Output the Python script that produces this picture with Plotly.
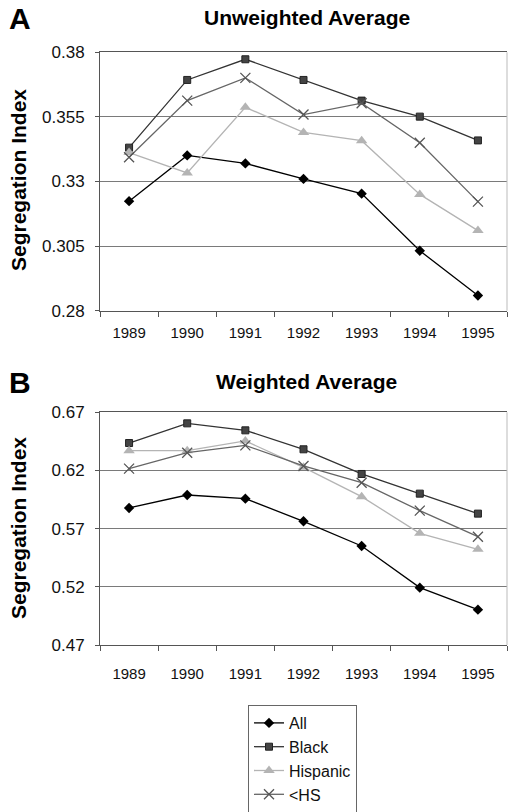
import plotly.graph_objects as go

years = ["1989", "1990", "1991", "1992", "1993", "1994", "1995"]
series_names = ["All", "Black", "Hispanic", "<HS"]

# Panel A: Unweighted Average
unw_all = [0.3224, 0.3401, 0.3370, 0.3310, 0.3253, 0.3032, 0.2859]
unw_black = [0.3431, 0.3693, 0.3773, 0.3693, 0.3613, 0.3551, 0.3459]
unw_hisp = [0.3412, 0.3333, 0.3587, 0.3490, 0.3458, 0.3250, 0.3110]
unw_hs = [0.3394, 0.3613, 0.3701, 0.3559, 0.3603, 0.3450, 0.3222]

# Panel B: Weighted Average
w_all = [0.5878, 0.5989, 0.5958, 0.5763, 0.5551, 0.5193, 0.5004]
w_black = [0.6436, 0.6605, 0.6545, 0.6382, 0.6170, 0.6001, 0.5829]
w_hisp = [0.6370, 0.6370, 0.6454, 0.6227, 0.5975, 0.5660, 0.5522]
w_hs = [0.6216, 0.6353, 0.6416, 0.6239, 0.6095, 0.5855, 0.5631]

ticks_a = [0.28, 0.305, 0.33, 0.355, 0.38]
ticks_b = [0.47, 0.52, 0.57, 0.62, 0.67]

W, H = 508, 812
FONT = "Liberation Sans, Arial, sans-serif"

styles = {
    "All": dict(line=dict(color="#000000", width=1.3),
                marker=dict(symbol="diamond", size=8, color="#000000")),
    "Black": dict(line=dict(color="#333333", width=1.3),
                  marker=dict(symbol="square", size=7, color="#444444",
                              line=dict(color="#222222", width=1))),
    "Hispanic": dict(line=dict(color="#b4b4b4", width=1.3),
                     marker=dict(symbol="triangle-up", size=10, color="#b4b4b4")),
    "<HS": dict(line=dict(color="#666666", width=1.3),
                marker=dict(symbol="x-thin", size=10,
                            line=dict(color="#555555", width=1.3))),
}

fig = go.Figure()
panel_a = [unw_all, unw_black, unw_hisp, unw_hs]
panel_b = [w_all, w_black, w_hisp, w_hs]
for name, vals in zip(series_names, panel_a):
    fig.add_trace(go.Scatter(x=years, y=vals, name=name, mode="lines+markers",
                             xaxis="x", yaxis="y", showlegend=True,
                             **styles[name]))
for name, vals in zip(series_names, panel_b):
    fig.add_trace(go.Scatter(x=years, y=vals, name=name, mode="lines+markers",
                             xaxis="x2", yaxis="y2", showlegend=False,
                             **styles[name]))

x0, x1 = 100 / W, 507 / W
ya = [1 - 310.7 / H, 1 - 52.3 / H]
yb = [1 - 645 / H, 1 - 412.3 / H]

def xax(anchor, standoff):
    return dict(domain=[x0, x1], anchor=anchor, type="category",
                range=[-0.5, 6.5], tickson="boundaries", ticks="outside",
                ticklen=5, tickcolor="#555555", showline=True, mirror=True,
                linecolor="#555555", linewidth=1, showgrid=False,
                tickfont=dict(family=FONT, size=15, color="#111111"),
                ticklabelstandoff=standoff, fixedrange=True, automargin=False)

def yax(anchor, dom, tv, rng):
    return dict(domain=dom, anchor=anchor, range=rng, tickvals=tv,
                ticktext=[f"{v:g}" for v in tv], ticks="outside", ticklen=4,
                tickcolor="#555555", showline=True, linecolor="#555555",
                linewidth=1, showgrid=True, gridcolor="#7a7a7a", gridwidth=1,
                zeroline=False, tickfont=dict(family=FONT, size=17, color="#111111"),
                ticklabelstandoff=7, fixedrange=True, automargin=False)

fig.update_layout(
    width=W, height=H,
    margin=dict(l=0, r=0, t=0, b=0, autoexpand=False),
    paper_bgcolor="white", plot_bgcolor="white",
    xaxis=xax("y", 8), yaxis=yax("x", ya, ticks_a, [0.28, 0.38]),
    xaxis2=xax("y2", 15), yaxis2=yax("x2", yb, ticks_b, [0.47, 0.67]),
    legend=dict(x=248 / W, y=1 - 705 / H, xanchor="left", yanchor="top",
                bordercolor="#666666", borderwidth=1, bgcolor="white",
                font=dict(family=FONT, size=16, color="#111111"),
                tracegroupgap=0, itemwidth=30),
    showlegend=True,
)

# right border of plot areas (light gray)
for dom in (ya, yb):
    fig.add_shape(type="line", xref="paper", yref="paper", x0=x1, x1=x1,
                  y0=dom[0], y1=dom[1], line=dict(color="#bbbbbb", width=1))

ann = [
    dict(text="<b>A</b>", x=7 / W, y=1 - 18 / H, size=30, xanchor="left"),
    dict(text="<b>Unweighted Average</b>", x=306.5 / W, y=1 - 17 / H, size=21, xanchor="center"),
    dict(text="<b>B</b>", x=7 / W, y=1 - 382 / H, size=30, xanchor="left"),
    dict(text="<b>Weighted Average</b>", x=306 / W, y=1 - 381 / H, size=21, xanchor="center"),
]
for a in ann:
    fig.add_annotation(text=a["text"], x=a["x"], y=a["y"], xref="paper", yref="paper",
                       xanchor=a["xanchor"], yanchor="middle", showarrow=False,
                       font=dict(family=FONT, size=a["size"], color="#000000"))
for yc in (180, 528):
    fig.add_annotation(text="<b>Segregation Index</b>", x=18 / W, y=1 - yc / H,
                       xref="paper", yref="paper", xanchor="center", yanchor="middle",
                       textangle=-90, showarrow=False,
                       font=dict(family=FONT, size=21, color="#000000"))

fig.write_html("out.html", config={"displayModeBar": False},
               post_script="document.body.style.margin='0';document.body.style.padding='0';")
